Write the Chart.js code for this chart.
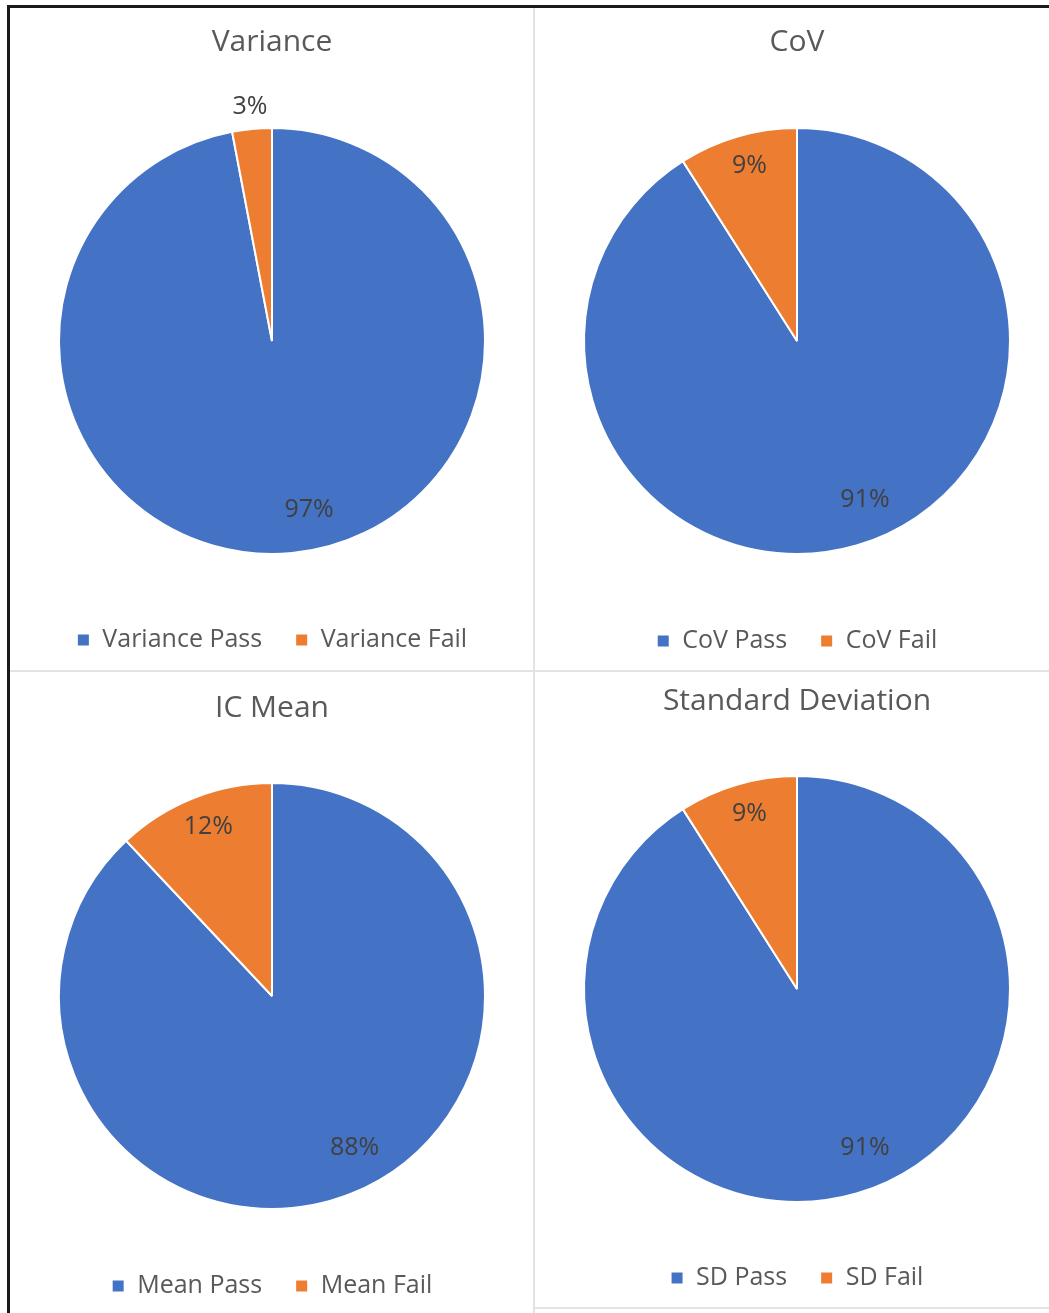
<!DOCTYPE html>
<html>
<head>
<meta charset="utf-8">
<script src="https://cdn.jsdelivr.net/npm/chart.js@4/dist/chart.umd.min.js"></script>
<style>
  html, body { margin: 0; padding: 0; background: #ffffff; overflow: hidden; }
  #wrap { position: relative; width: 1049px; height: 1313px; }
  canvas { position: absolute; }
  .ln { position: absolute; }
</style>
</head>
<body>
<div id="wrap">
  <div class="ln" style="left:7px;top:5px;width:1042px;height:3px;background:#1a1a1a;"></div>
  <div class="ln" style="left:7px;top:5px;width:3px;height:1308px;background:#1a1a1a;"></div>
  <div class="ln" style="left:533px;top:8px;width:2px;height:1305px;background:#e3e3e3;"></div>
  <div class="ln" style="left:10px;top:670px;width:1039px;height:2px;background:#e3e3e3;"></div>
  <div class="ln" style="left:535px;top:1307px;width:514px;height:2px;background:#e3e3e3;"></div>
  <canvas id="c0"></canvas>
  <canvas id="c1"></canvas>
  <canvas id="c2"></canvas>
  <canvas id="c3"></canvas>
</div>
<script>
// ---- data ----
const chartTitles = ['Variance', 'CoV', 'IC Mean', 'Standard Deviation'];
const passLabels = ['Variance Pass', 'CoV Pass', 'Mean Pass', 'SD Pass'];
const failLabels = ['Variance Fail', 'CoV Fail', 'Mean Fail', 'SD Fail'];
const passValues = [97, 91, 88, 91];
const failValues = [3, 9, 12, 9];

// ---- layout (styling only) ----
const panels = [
  { left: 22,  top: 8,   width: 500, height: 662, titleY: 42,  centerY: 341, legendY: 640 },
  { left: 547, top: 8,   width: 500, height: 662, titleY: 42,  centerY: 341, legendY: 641 },
  { left: 22,  top: 672, width: 500, height: 641, titleY: 708, centerY: 996, legendY: 1286 },
  { left: 547, top: 673, width: 500, height: 634, titleY: 701, centerY: 989, legendY: 1278 }
];
const FONT = "'Segoe UI', 'Open Sans', 'Noto Sans', sans-serif";
const BLUE = '#4472C4', ORANGE = '#ED7D31';
const TITLE_SIZE = 30, LEGEND_SIZE = 25, LEGEND_PAD = 33, LABEL_SIZE = 25;
const RADIUS = 213;

const pctLabels = {
  id: 'pctLabels',
  afterDatasetsDraw(chart) {
    const ctx = chart.ctx;
    const meta = chart.getDatasetMeta(0);
    const data = chart.data.datasets[0].data;
    const total = data.reduce((a, b) => a + b, 0);
    ctx.save();
    ctx.font = LABEL_SIZE + 'px ' + FONT;
    ctx.fillStyle = '#404040';
    ctx.textAlign = 'center';
    ctx.textBaseline = 'middle';
    meta.data.forEach((arc, i) => {
      const p = arc.getProps(['x', 'y', 'startAngle', 'endAngle', 'outerRadius'], true);
      const frac = data[i] / total;
      let mid = (p.startAngle + p.endAngle) / 2;
      let r;
      if (frac < 0.05) {
        r = p.outerRadius + 22;
      } else if (frac > 0.5) {
        mid -= 7 * Math.PI / 180;
        r = p.outerRadius * 0.81;
      } else {
        mid += 1 * Math.PI / 180;
        r = p.outerRadius * 0.85;
      }
      const x = p.x + r * Math.cos(mid);
      const y = p.y + r * Math.sin(mid);
      ctx.fillText(Math.round(frac * 100) + '%', x, y);
    });
    ctx.restore();
  }
};

panels.forEach((pn, k) => {
  const cv = document.getElementById('c' + k);
  cv.width = pn.width; cv.height = pn.height;
  cv.style.left = pn.left + 'px'; cv.style.top = pn.top + 'px';
  cv.style.width = pn.width + 'px'; cv.style.height = pn.height + 'px';

  const t = pn.titleY - pn.top, c = pn.centerY - pn.top, l = pn.legendY - pn.top;
  const tLine = TITLE_SIZE * 1.2;
  const legendTop = l - LEGEND_PAD - LEGEND_SIZE / 2;
  const legendH = LEGEND_SIZE + LEGEND_PAD + 10;
  const padBottom = pn.height - (legendTop + legendH);
  const areaTop = 2 * c - legendTop;
  const titlePadTop = t - tLine / 2;
  const titlePadBottom = areaTop - (t + tLine / 2);

  new Chart(cv, {
    type: 'pie',
    data: {
      labels: [passLabels[k], failLabels[k]],
      datasets: [{
        data: [passValues[k], failValues[k]],
        backgroundColor: [BLUE, ORANGE],
        borderColor: '#ffffff',
        borderWidth: 2
      }]
    },
    options: {
      responsive: false,
      animation: false,
      radius: RADIUS,
      layout: { padding: { top: 0, bottom: padBottom, left: 0, right: 0 } },
      plugins: {
        title: {
          display: true,
          text: chartTitles[k],
          color: '#595959',
          font: { family: FONT, size: TITLE_SIZE, weight: 'normal' },
          padding: { top: titlePadTop, bottom: titlePadBottom }
        },
        legend: {
          display: true,
          position: 'bottom',
          labels: {
            color: '#595959',
            font: { family: FONT, size: LEGEND_SIZE },
            boxWidth: 13,
            boxHeight: 13,
            padding: LEGEND_PAD
          }
        },
        tooltip: { enabled: false }
      }
    },
    plugins: [pctLabels]
  });
});
</script>
</body>
</html>
